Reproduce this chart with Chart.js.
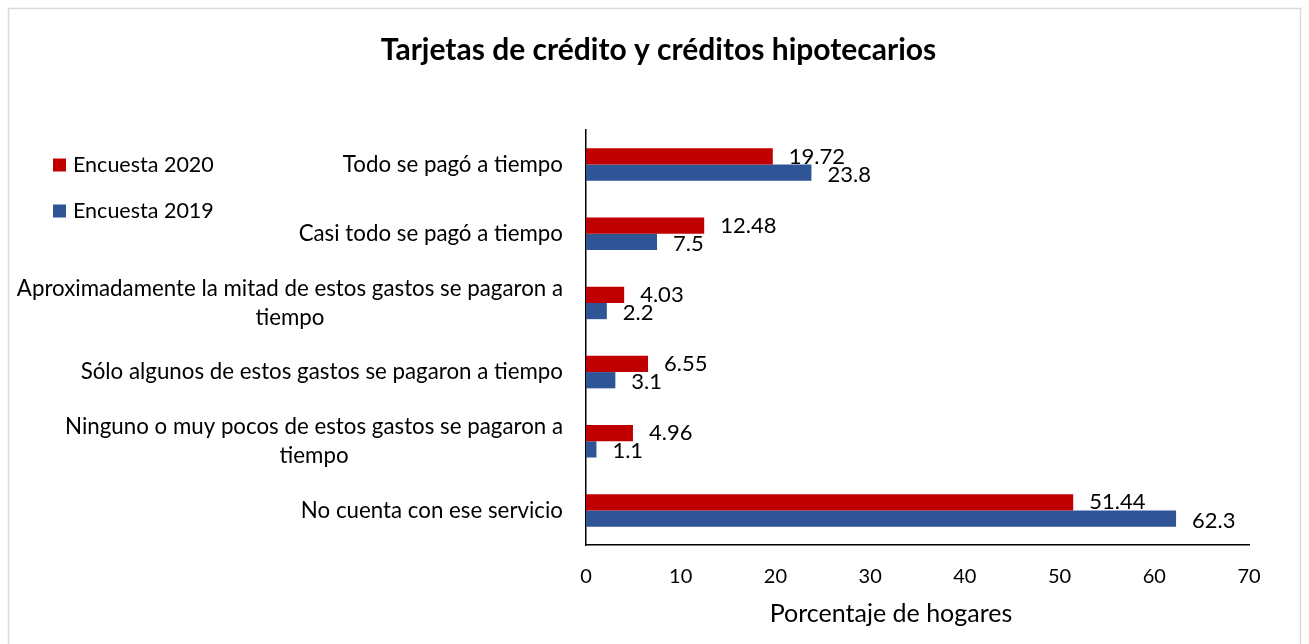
<!DOCTYPE html>
<html>
<head>
<meta charset="utf-8">
<script src="https://cdn.jsdelivr.net/npm/chart.js@4.4.1/dist/chart.umd.min.js"></script>
<style>
  html, body { margin: 0; padding: 0; background: #fff; }
  #wrap { width: 1309px; height: 644px; position: relative; }
</style>
</head>
<body>
<div id="wrap"><canvas id="grafico"></canvas></div>
<script>
// datos
const TITULO = 'Tarjetas de crédito y créditos hipotecarios';
const TITULO_X = 'Porcentaje de hogares';
const CATEGORIAS = [
  'Todo se pagó a tiempo',
  'Casi todo se pagó a tiempo',
  ['Aproximadamente la mitad de estos gastos se pagaron a', 'tiempo'],
  'Sólo algunos de estos gastos se pagaron a tiempo',
  ['Ninguno o muy pocos de estos gastos se pagaron a', 'tiempo'],
  'No cuenta con ese servicio'
];
const SERIES = ['Encuesta 2020', 'Encuesta 2019'];
const VALORES_2020 = [19.72, 12.48, 4.03, 6.55, 4.96, 51.44];
const VALORES_2019 = [23.8, 7.5, 2.2, 3.1, 1.1, 62.3];
const ETIQUETAS_2020 = ['19.72', '12.48', '4.03', '6.55', '4.96', '51.44'];
const ETIQUETAS_2019 = ['23.8', '7.5', '2.2', '3.1', '1.1', '62.3'];
const EJE_X = { min: 0, max: 70, paso: 10 };

const ROJO = '#C00000';
const AZUL = '#2F5597';
const FUENTE = 'Lato';

// marco gris, título y título del eje x
const marco = {
  id: 'marco',
  beforeDraw(chart) {
    const c = chart.ctx;
    c.save();
    c.strokeStyle = '#d9d9d9';
    c.lineWidth = 1.5;
    c.strokeRect(8.5, 8.5, chart.width - 17, chart.height + 20);
    c.fillStyle = '#000';
    c.textAlign = 'center';
    c.textBaseline = 'middle';
    c.font = `bold 30px ${FUENTE}`;
    c.fillText(TITULO, chart.width / 2 + 4, 50);
    c.font = `25px ${FUENTE}`;
    c.fillText(TITULO_X, chart.chartArea.left + 305, 614);
    c.restore();
  }
};

// etiquetas de categoría (líneas centradas entre sí, bloque alineado a la derecha)
const etiquetasY = {
  id: 'etiquetasY',
  afterDraw(chart) {
    const c = chart.ctx;
    const y = chart.scales.y;
    const derecha = chart.chartArea.left - 23;
    const alto = 29;
    c.save();
    c.font = `22.3px ${FUENTE}`;
    c.fillStyle = '#000';
    c.textAlign = 'center';
    c.textBaseline = 'middle';
    CATEGORIAS.forEach((cat, i) => {
      const lineas = Array.isArray(cat) ? cat : [cat];
      const ancho = Math.max(...lineas.map(l => c.measureText(l).width));
      const cx = derecha - ancho / 2;
      const cy = y.getPixelForValue(i);
      const y0 = cy - (lineas.length - 1) * alto / 2;
      lineas.forEach((l, k) => c.fillText(l, cx, y0 + k * alto));
    });
    c.restore();
  }
};

// valores al final de cada barra
const valores = {
  id: 'valores',
  afterDatasetsDraw(chart) {
    const c = chart.ctx;
    const textos = [ETIQUETAS_2020, ETIQUETAS_2019];
    c.save();
    c.font = `22px ${FUENTE}`;
    c.fillStyle = '#000';
    c.textAlign = 'left';
    c.textBaseline = 'middle';
    chart.data.datasets.forEach((ds, d) => {
      chart.getDatasetMeta(d).data.forEach((bar, i) => {
        c.fillText(textos[d][i], bar.x + 16, bar.y + (d === 1 ? 2 : 0));
      });
    });
    c.restore();
  }
};

// leyenda a la izquierda
const leyenda = {
  id: 'leyenda',
  afterDraw(chart) {
    const c = chart.ctx;
    c.save();
    c.font = `21.5px ${FUENTE}`;
    c.textBaseline = 'middle';
    c.textAlign = 'left';
    chart.data.datasets.forEach((ds, d) => {
      const y = 165 + d * 46;
      c.fillStyle = ds.backgroundColor;
      c.fillRect(53, y - 6.5, 13, 13);
      c.fillStyle = '#000';
      c.fillText(ds.label, 73, y);
    });
    c.restore();
  }
};

new Chart(document.getElementById('grafico'), {
  type: 'bar',
  data: {
    labels: CATEGORIAS,
    datasets: [
      { label: SERIES[0], data: VALORES_2020, backgroundColor: ROJO },
      { label: SERIES[1], data: VALORES_2019, backgroundColor: AZUL }
    ]
  },
  options: {
    indexAxis: 'y',
    responsive: true,
    maintainAspectRatio: false,
    animation: false,
    categoryPercentage: 0.47,
    barPercentage: 1,
    layout: { padding: { left: 0, right: 60, top: 130, bottom: 0 } },
    plugins: {
      legend: { display: false },
      tooltip: { enabled: false },
      title: { display: false }
    },
    scales: {
      y: {
        grid: { display: false },
        border: { display: true, color: '#000', width: 1.5 },
        ticks: { display: false },
        afterFit(s) { s.width = 586; }
      },
      x: {
        min: EJE_X.min,
        max: EJE_X.max,
        grid: { display: false },
        border: { display: true, color: '#000', width: 1.5 },
        ticks: {
          stepSize: EJE_X.paso,
          color: '#000',
          padding: 12,
          font: { family: FUENTE, size: 20 }
        },
        afterFit(s) { s.height = 99; }
      }
    }
  },
  plugins: [marco, etiquetasY, valores, leyenda]
});
</script>
</body>
</html>
